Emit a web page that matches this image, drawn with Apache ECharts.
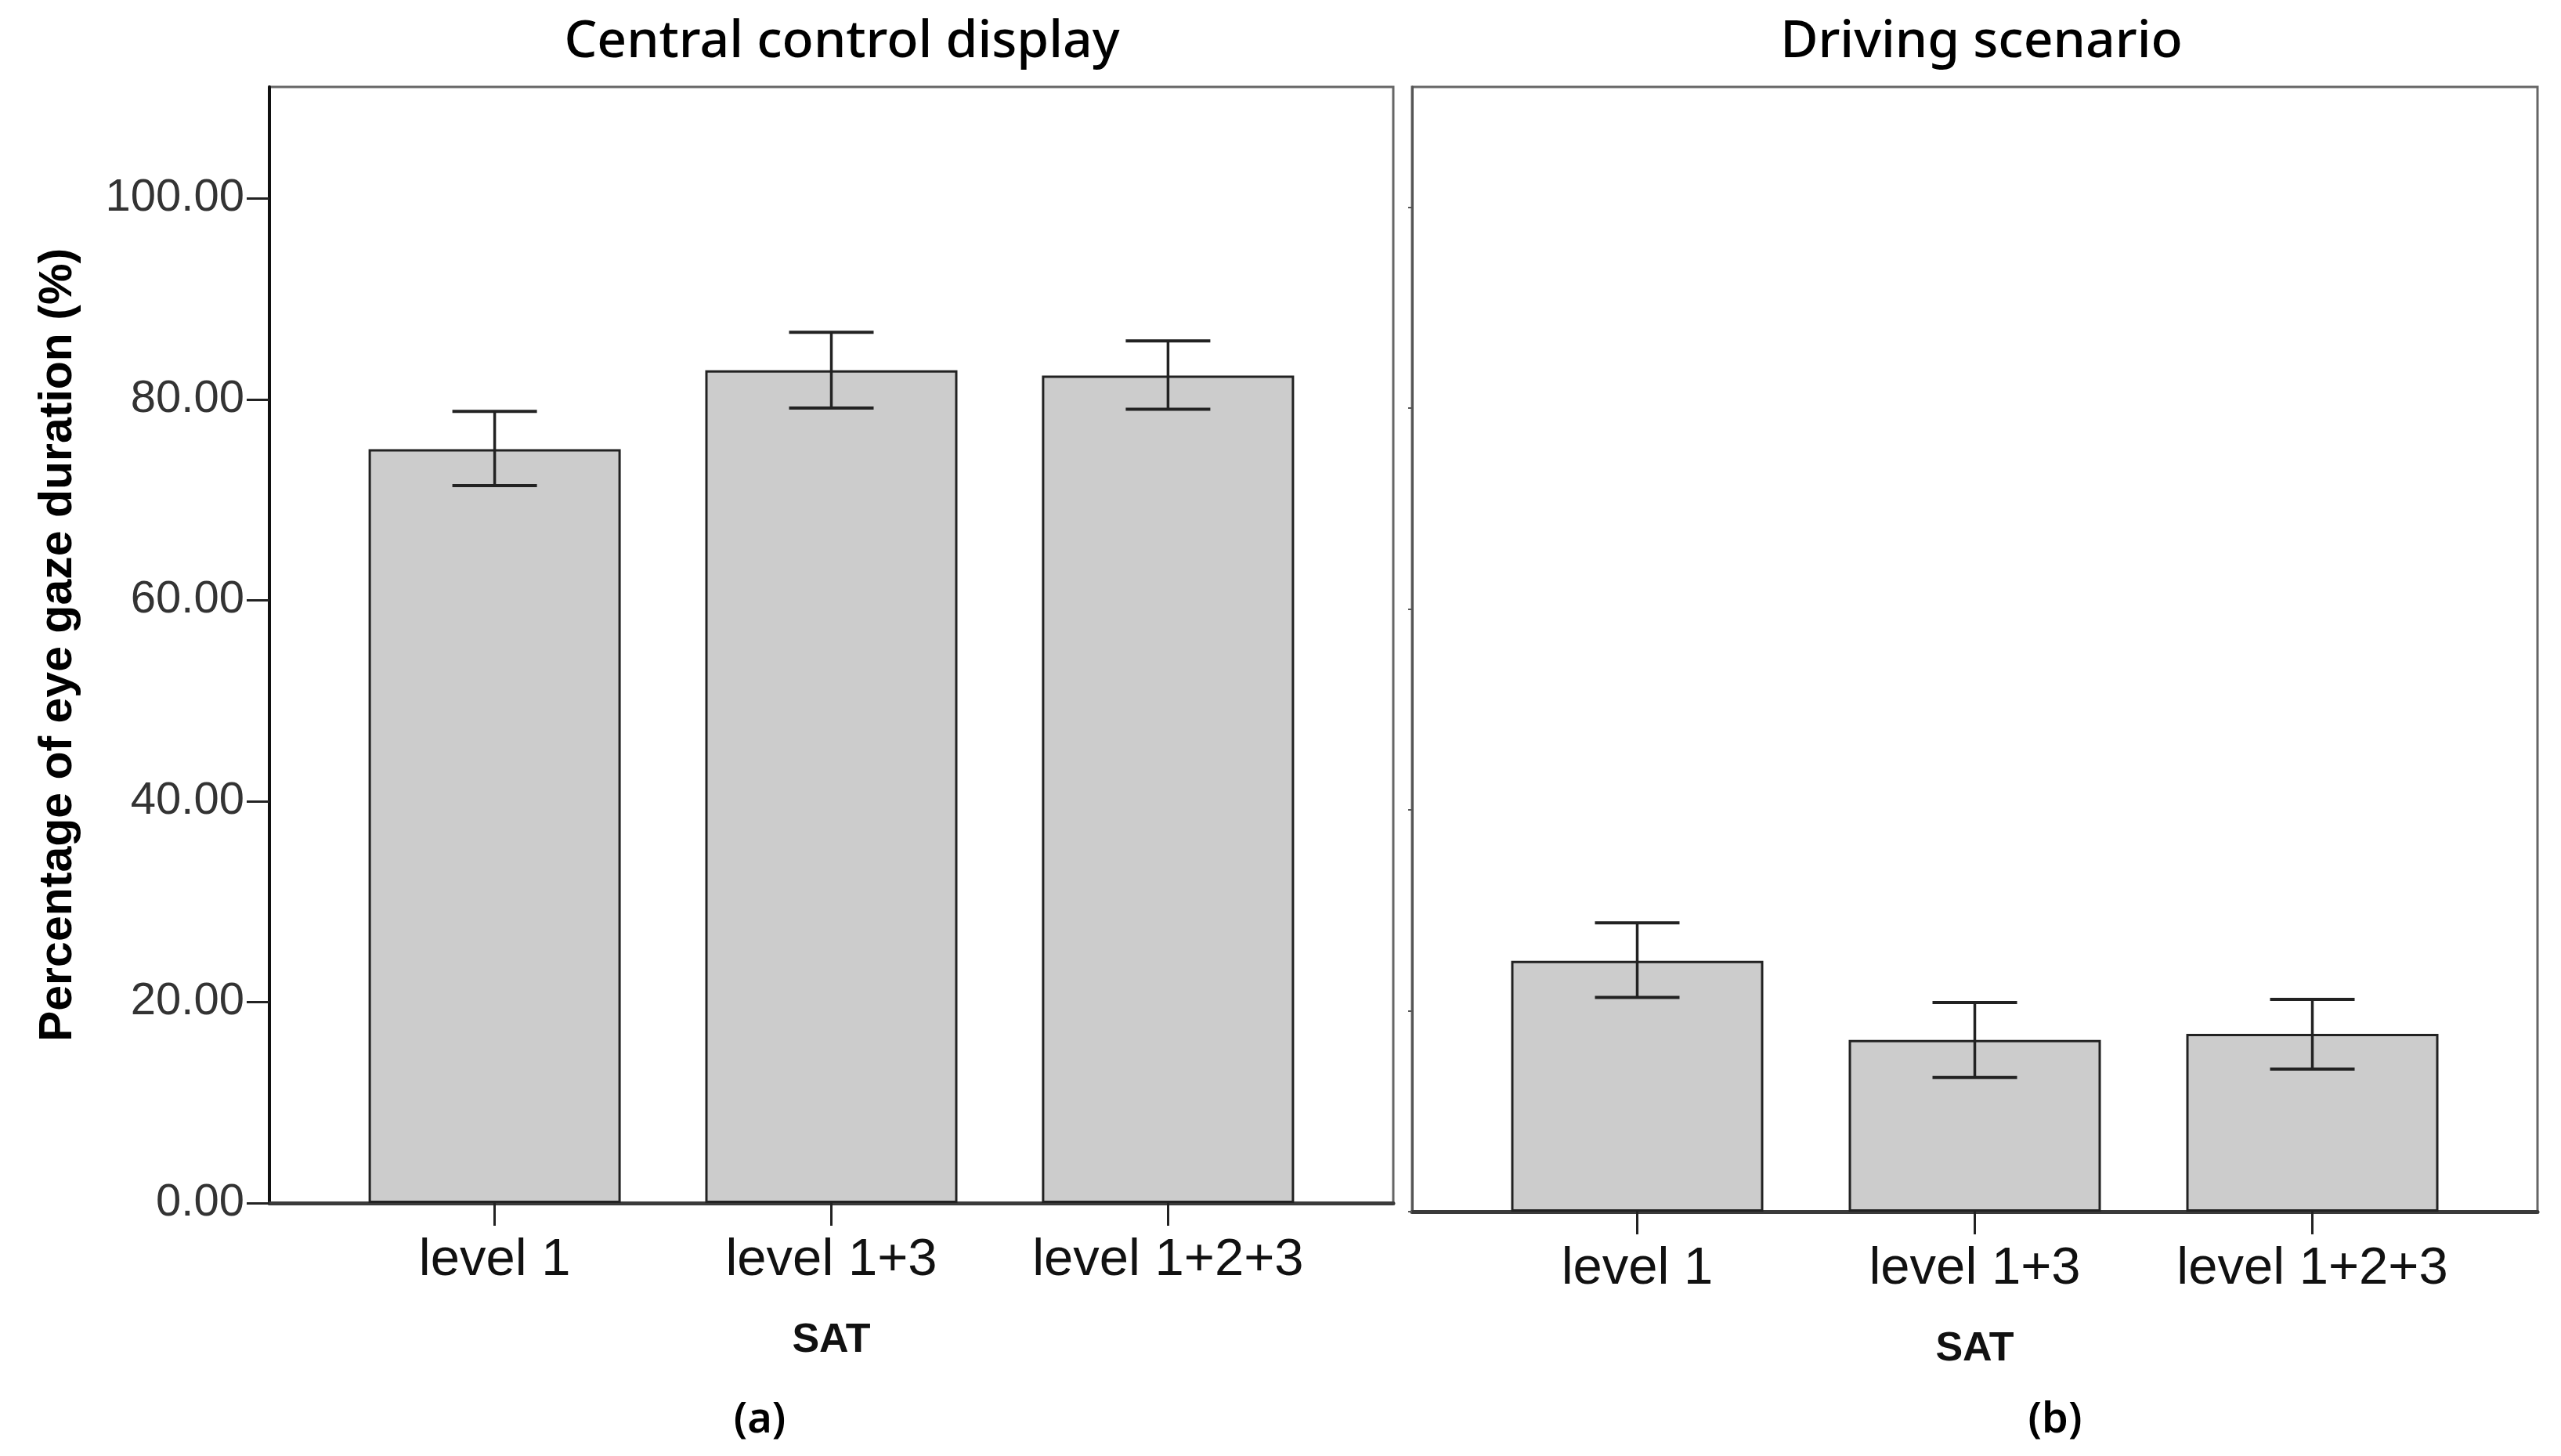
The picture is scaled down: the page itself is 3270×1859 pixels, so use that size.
<!DOCTYPE html>
<html>
<head>
<meta charset="utf-8">
<style>
  html, body { margin: 0; padding: 0; background: #ffffff; }
  #chart { width: 3270px; height: 1859px; }
</style>
<script src="https://cdn.jsdelivr.net/npm/echarts@6/dist/echarts.min.js"></script>
</head>
<body>
<div id="chart"></div>
<script>
// ---- Data ----
const categories = ['level 1', 'level 1+3', 'level 1+2+3'];
const categoryIndex = [0, 1, 2];

// (a) Central control display
const ccdMeans = [75.03, 82.88, 82.36];
const ccdLower = [71.40, 79.13, 79.01];
const ccdUpper = [78.80, 86.67, 85.81];

// (b) Driving scenario
const dsMeans = [24.97, 17.09, 17.69];
const dsLower = [21.33, 13.35, 14.19];
const dsUpper = [28.74, 20.81, 21.12];

const yTicks = [0, 20, 40, 60, 80, 100];

const panelTitles = ['Central control display', 'Driving scenario'];
const panelCaptions = ['(a)', '(b)'];
const xAxisTitle = 'SAT';
const yAxisTitle = 'Percentage of eye gaze duration (%)';

// ---- Chart ----
const chart = echarts.init(document.getElementById('chart'), null, { renderer: 'canvas' });

const TICK_FONT = '"Liberation Sans", Arial, sans-serif';
const CAP_HALF = 54;

function errorRender(params, api) {
  const x = api.value(0);
  const lo = api.coord([x, api.value(1)]);
  const hi = api.coord([x, api.value(2)]);
  const style = { stroke: '#222222', lineWidth: 4 };
  return {
    type: 'group',
    children: [
      { type: 'line', shape: { x1: hi[0], y1: hi[1], x2: lo[0], y2: lo[1] }, style: { stroke: '#222222', lineWidth: 3.5 } },
      { type: 'line', shape: { x1: hi[0] - CAP_HALF, y1: hi[1], x2: hi[0] + CAP_HALF, y2: hi[1] }, style: style },
      { type: 'line', shape: { x1: lo[0] - CAP_HALF, y1: lo[1], x2: lo[0] + CAP_HALF, y2: lo[1] }, style: style }
    ]
  };
}

function xAxisFor(gridIndex, min, max, margin, nameGap) {
  return {
    type: 'value',
    gridIndex: gridIndex,
    min: min,
    max: max,
    axisLine: { show: true, onZero: false, lineStyle: { color: '#3a3a3a', width: 5 } },
    axisTick: { show: true, customValues: categoryIndex, length: 29, lineStyle: { color: '#222', width: 3 } },
    axisLabel: {
      show: true,
      customValues: categoryIndex,
      formatter: function (v) { return categories[Math.round(v)]; },
      fontFamily: TICK_FONT,
      fontSize: 67,
      color: '#111',
      margin: margin
    },
    splitLine: { show: false },
    name: xAxisTitle,
    nameLocation: 'middle',
    nameGap: nameGap,
    nameTextStyle: { fontFamily: TICK_FONT, fontWeight: 'bold', fontSize: 52, color: '#111' }
  };
}

const option = {
  backgroundColor: '#ffffff',
  animation: false,
  grid: [
    { left: 344, top: 111, width: 1435, height: 1425, show: true, borderColor: '#666666', borderWidth: 3, containLabel: false },
    { left: 1803, top: 111, width: 1437, height: 1436, show: true, borderColor: '#666666', borderWidth: 3, containLabel: false }
  ],
  xAxis: [
    xAxisFor(0, -0.669, 2.669, 40, 150),
    xAxisFor(1, -0.667, 2.667, 40, 150)
  ],
  yAxis: [
    {
      type: 'value',
      gridIndex: 0,
      min: 0,
      max: 111.09,
      interval: 20,
      axisLine: { show: true, onZero: false, lineStyle: { color: '#111', width: 4 } },
      axisTick: { show: true, customValues: yTicks, length: 29, lineStyle: { color: '#222', width: 3 } },
      axisLabel: {
        show: true,
        customValues: yTicks,
        formatter: function (v) { return v.toFixed(2); },
        fontFamily: TICK_FONT,
        fontSize: 58,
        color: '#333',
        margin: 32,
        padding: [22, 0, 0, 0]
      },
      splitLine: { show: false },
      name: yAxisTitle,
      nameLocation: 'middle',
      nameGap: 240,
      nameTextStyle: { fontFamily: TICK_FONT, fontWeight: 'bold', fontSize: 59, color: '#000' }
    },
    {
      type: 'value',
      gridIndex: 1,
      min: 0,
      max: 111.95,
      interval: 20,
      axisLine: { show: true, onZero: false, lineStyle: { color: '#555', width: 3 } },
      axisTick: { show: true, customValues: yTicks, length: 5, lineStyle: { color: '#555', width: 2 } },
      axisLabel: { show: false },
      splitLine: { show: false }
    }
  ],
  series: [
    {
      type: 'bar',
      xAxisIndex: 0,
      yAxisIndex: 0,
      barWidth: 322,
      data: categoryIndex.map(function (i) { return [i, ccdMeans[i]]; }),
      itemStyle: { color: '#cccccc', borderColor: '#222222', borderWidth: 3 },
      z: 2
    },
    {
      type: 'custom',
      xAxisIndex: 0,
      yAxisIndex: 0,
      renderItem: errorRender,
      data: categoryIndex.map(function (i) { return [i, ccdLower[i], ccdUpper[i]]; }),
      z: 5
    },
    {
      type: 'bar',
      xAxisIndex: 1,
      yAxisIndex: 1,
      barWidth: 322,
      data: categoryIndex.map(function (i) { return [i, dsMeans[i]]; }),
      itemStyle: { color: '#cccccc', borderColor: '#222222', borderWidth: 3 },
      z: 2
    },
    {
      type: 'custom',
      xAxisIndex: 1,
      yAxisIndex: 1,
      renderItem: errorRender,
      data: categoryIndex.map(function (i) { return [i, dsLower[i], dsUpper[i]]; }),
      z: 5
    }
  ],
  graphic: [
    { type: 'text', x: 1075, y: 54, style: { text: panelTitles[0], font: '500 66px "Noto Sans", sans-serif', fill: '#000', textAlign: 'center', textVerticalAlign: 'middle' } },
    { type: 'text', x: 2530, y: 54, style: { text: panelTitles[1], font: '500 66px "Noto Sans", sans-serif', fill: '#000', textAlign: 'center', textVerticalAlign: 'middle' } },
    { type: 'text', x: 970, y: 1814, style: { text: panelCaptions[0], font: '600 54px "Noto Sans", sans-serif', fill: '#000', textAlign: 'center', textVerticalAlign: 'middle' } },
    { type: 'text', x: 2624, y: 1814, style: { text: panelCaptions[1], font: '600 54px "Noto Sans", sans-serif', fill: '#000', textAlign: 'center', textVerticalAlign: 'middle' } }
  ]
};

chart.setOption(option);
</script>
</body>
</html>
